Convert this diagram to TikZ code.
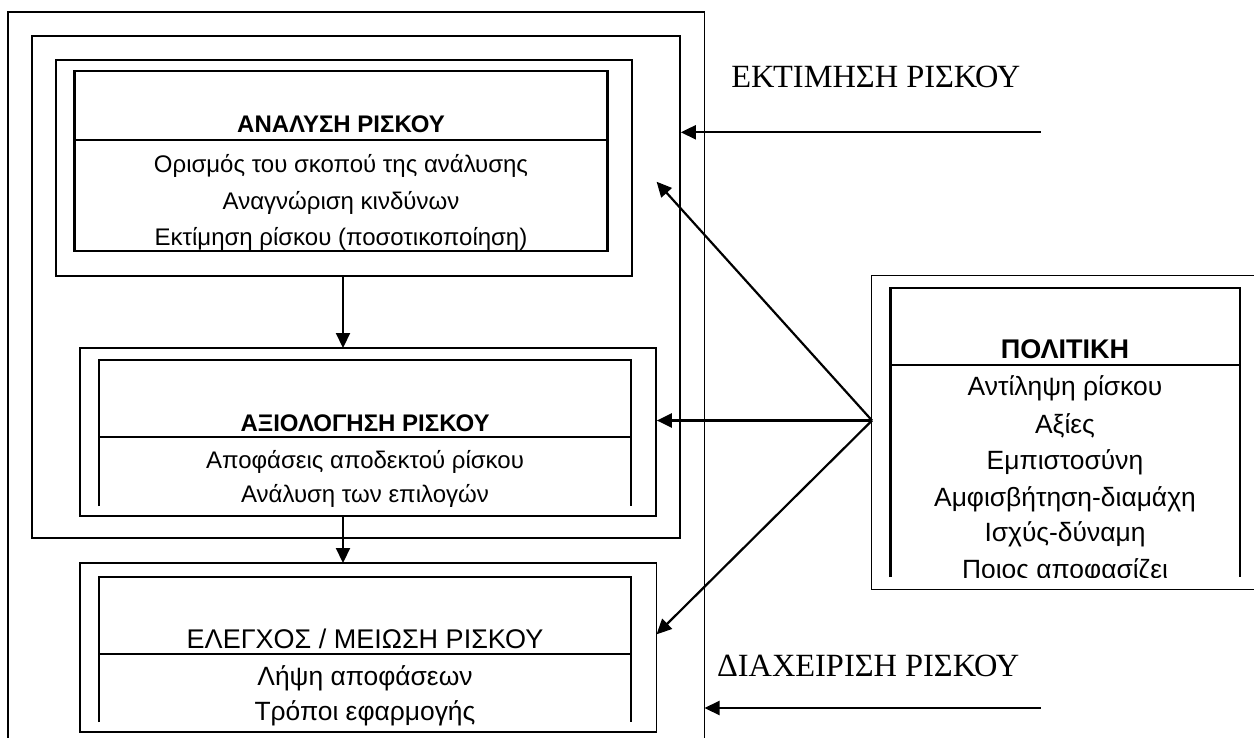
\documentclass[tikz,border=0pt]{standalone}
\usepackage{fontspec}
\setmainfont{Liberation Sans}
\newfontfamily\labelfont{Liberation Serif}
\usetikzlibrary{arrows.meta,fit}
\begin{document}
\begin{tikzpicture}[x=0.5pt,y=-0.5pt,
  frame/.style={draw,line width=0.85pt,inner sep=0pt},
  hidden/.style={inner sep=0pt},
  heavy/.style={line width=1.4pt},
  thin/.style={line width=0.85pt},
  flow/.style={line width=1.1pt,-{Triangle[length=7.5pt,width=7pt]}},
  body/.style={font=\fontsize{12}{14}\selectfont,inner sep=0pt,anchor=base},
  bodylarge/.style={font=\fontsize{13.2}{15}\selectfont,inner sep=0pt,anchor=base},
  head/.style={font=\fontsize{12}{14}\selectfont\bfseries,inner sep=0pt,anchor=base},
  headplain/.style={font=\fontsize{13.5}{15}\selectfont,inner sep=0pt,anchor=base},
  stage/.style={font=\fontsize{16.2}{20}\labelfont,inner sep=0pt,anchor=base west}]
\clip (0,0) rectangle (1254,738);

% risk management frame, open at the bottom
\coordinate (mgmtBL) at (8,738);
\coordinate (mgmtTL) at (8,12);
\coordinate (mgmtTR) at (704.5,12);
\coordinate (mgmtBR) at (704.5,738);
\draw[thin] (mgmtBL) -- (mgmtTL) -- (mgmtTR) -- (mgmtBR);

% risk assessment frame and its stages
\node[frame, fit={(32,36) (680,538)}] (assess) {};
\node[frame, fit={(56,60) (632,276)}] (analysis) {};
\node[frame, fit={(80,348) (656,516)}] (evaluation) {};
\node[frame, fit={(80,563) (656.5,732)}] (control) {};

% analysis table
\draw[heavy] (74.5,71) rectangle (607.5,251);
\draw[heavy] (74.5,140) -- (607.5,140);
\node[head] (anT) at (341,133) {ΑΝΑΛΥΣΗ ΡΙΣΚΟΥ};
\node[body] (an1) at (341,173) {Ορισμός του σκοπού της ανάλυσης};
\node[body] (an2) at (341,209) {Αναγνώριση κινδύνων};
\node[body] (an3) at (341,245) {Εκτίμηση ρίσκου (ποσοτικοποίηση)};
\draw[heavy] (74.5,251) -- (607.5,251);

% evaluation table, open at the bottom
\draw[heavy] (99,506) -- (99,360) -- (631,360) -- (631,506);
\draw[heavy] (99,437) -- (631,437);
\node[head] (evT) at (365,431.7) {ΑΞΙΟΛΟΓΗΣΗ ΡΙΣΚΟΥ};
\node[body] (ev1) at (365,468.3) {Αποφάσεις αποδεκτού ρίσκου};
\node[body] (ev2) at (365,502.7) {Ανάλυση των επιλογών};

% control table, open at the bottom
\draw[heavy] (99,722) -- (99,577) -- (631,577) -- (631,722);
\draw[heavy] (99,654) -- (631,654);
\node[headplain] (coT) at (365,648.3) {ΕΛΕΓΧΟΣ / ΜΕΙΩΣΗ ΡΙΣΚΟΥ};
\node[bodylarge] (co1) at (365,685) {Λήψη αποφάσεων};
\node[bodylarge] (co2) at (365,720) {Τρόποι εφαρμογής};

% policy box, running off the right edge
\node[hidden, fit={(872,276) (1254,589)}] (policy) {};
\draw[thin] (policy.north east) -- (policy.north west) -- (policy.south west) -- (policy.south east);
\draw[heavy] (890.5,577) -- (890.5,288) -- (1240,288) -- (1240,577);
\draw[heavy] (890.5,365) -- (1240,365);
\node[head,font=\fontsize{13.5}{15}\selectfont\bfseries] (poT) at (1065,358.3) {ΠΟΛΙΤΙΚΗ};
\node[bodylarge] (po1) at (1065,395) {Αντίληψη ρίσκου};
\node[bodylarge] (po2) at (1065,433.3) {Αξίες};
\node[bodylarge] (po3) at (1065,469.3) {Εμπιστοσύνη};
\node[bodylarge] (po4) at (1065,506) {Αμφισβήτηση-διαμάχη};
\node[bodylarge] (po5) at (1065,541.7) {Ισχύς-δύναμη};
\begin{scope}
  \clip (891,545) rectangle (1240,577);
  \node[bodylarge] (po6) at (1065,578) {Ποιος αποφασίζει};
\end{scope}

% stage labels
\node[stage] (lblAssess) at (731,88) {ΕΚΤΙΜΗΣΗ ΡΙΣΚΟΥ};
\node[stage] (lblMgmt) at (716.6,676.7) {ΔΙΑΧΕΙΡΙΣΗ ΡΙΣΚΟΥ};

% connectors
\draw[flow] (analysis.south -| 343,0) -- (343,348);
\draw[flow] (343,516) -- (343,563);

\coordinate (hub) at (872,420.5);
\coordinate (toAnalysis) at (656.6,181.7);
\coordinate (toControl) at (656.6,634.3);
\draw[flow] (hub) -- (toAnalysis);
\draw[flow] (hub) -- (hub -| evaluation.east);
\draw[flow] (hub) -- (toControl);

\coordinate (assessIn) at (1040.5,132.3);
\draw[flow] (assessIn) -- (assessIn -| assess.east);
\coordinate (mgmtIn) at (1040.5,708);
\draw[flow] (mgmtIn) -- (mgmtIn -| mgmtTR);
\end{tikzpicture}
\end{document}
